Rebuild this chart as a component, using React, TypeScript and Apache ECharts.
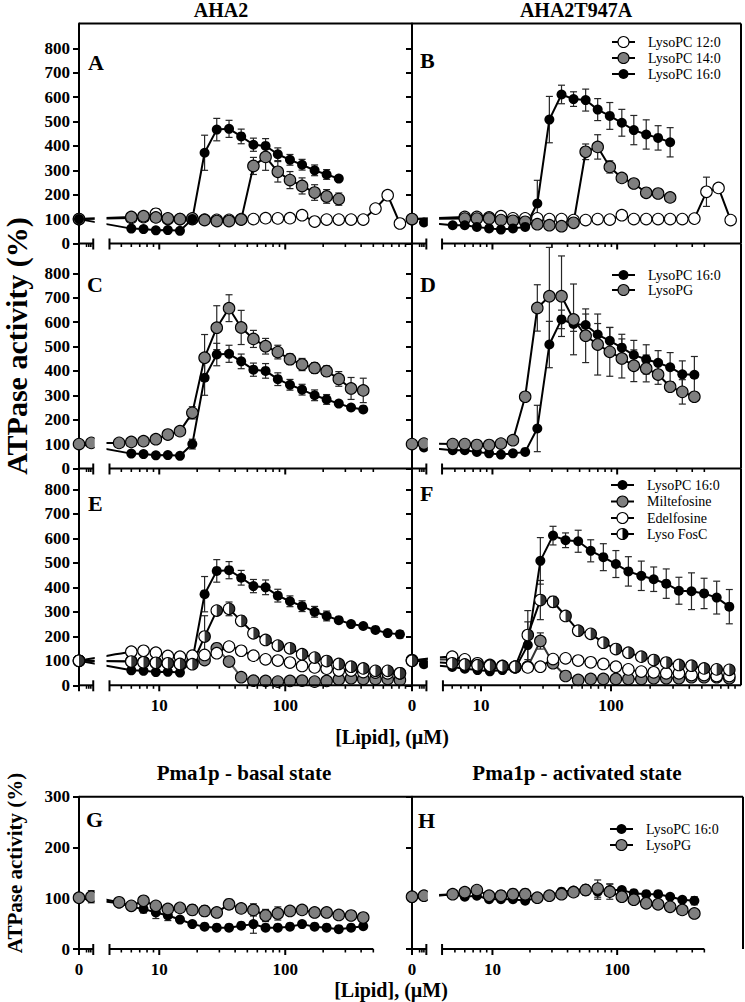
import React, { useEffect, useRef } from 'react';
import * as echarts from 'echarts';

// ---------- concentrations (µM) for the log part of the x axis ----------
const CONC = [4.8, 6, 7.5, 9.4, 11.7, 14.6, 18.3, 22.9, 28.6, 35.8, 44.7, 55.9, 69.8, 87.3, 109, 136, 171, 213, 266, 333, 416, 520, 650, 813];

// ---------- AHA2 (wild type) ----------
const AHA2_PC12 = [105, 108, 122, 100, 100, 100, 98, 97, 97, 100, 100, 104, 103, 104, 116, 90, 98, 98, 98, 98, 143, 198, 82];
const AHA2_PC12_ERR = [0, 0, 20, 0, 0, 0, 0, 0, 0, 0, 0, 0, 0, 0, 12, 0, 0, 0, 0, 0, 0, 15, 0];
const AHA2_PC14 = [109, 112, 107, 103, 100, 103, 96, 92, 92, 98, 318, 355, 294, 260, 236, 209, 193, 182];
const AHA2_PC14_ERR = [0, 0, 0, 0, 0, 0, 0, 0, 0, 0, 35, 55, 42, 35, 33, 32, 28, 25];
const AHA2_PC16 = [61, 59, 54, 55, 52, 100, 372, 467, 470, 439, 405, 400, 366, 343, 323, 300, 283, 266, 250, 242, 226, 213, 208];
const AHA2_PC16_ERR = [0, 0, 0, 0, 0, 20, 72, 46, 35, 30, 27, 30, 26, 22, 22, 22, 20, 10, 0, 0, 0, 0, 15];
const AHA2_PG = [105, 109, 112, 120, 139, 153, 228, 454, 577, 657, 578, 531, 501, 477, 448, 426, 412, 399, 367, 328, 320];
const AHA2_PG_ERR = [0, 0, 0, 0, 0, 0, 25, 95, 90, 55, 70, 35, 32, 28, 22, 25, 22, 22, 30, 45, 50];
const AHA2_MILT = [98, 95, 92, 90, 88, 95, 103, 151, 97, 33, 19, 18, 15, 18, 19, 15, 18, 24, 29, 26, 26, 26, 22];
const AHA2_MILT_ERR = [0, 0, 0, 0, 0, 0, 0, 20, 12, 0, 0, 0, 0, 0, 0, 0, 0, 0, 0, 0, 0, 0, 0];
const AHA2_EDEL = [137, 141, 133, 120, 117, 121, 124, 131, 158, 141, 121, 106, 101, 93, 79, 73, 68, 60, 60, 54, 52, 49, 49];
const AHA2_FOSC = [97, 94, 92, 90, 87, 86, 199, 305, 312, 263, 212, 185, 162, 151, 127, 113, 99, 87, 76, 69, 59, 59, 49];
const AHA2_FOSC_ERR = [0, 0, 0, 0, 0, 0, 85, 0, 28, 20, 0, 0, 0, 0, 0, 0, 0, 0, 0, 0, 0, 0, 0];

// ---------- AHA2T947A ----------
const T947A_PC12 = [109, 109, 107, 112, 103, 103, 103, 100, 100, 96, 96, 100, 98, 116, 100, 100, 100, 100, 100, 102, 212, 228, 96];
const T947A_PC12_ERR = [0, 0, 0, 0, 0, 0, 0, 0, 0, 0, 0, 0, 0, 12, 0, 0, 0, 0, 0, 0, 60, 0, 0];
const T947A_PC14 = [102, 102, 102, 96, 93, 89, 79, 75, 71, 85, 376, 396, 314, 269, 246, 208, 205, 189];
const T947A_PC14_ERR = [0, 0, 0, 0, 0, 0, 0, 0, 0, 0, 32, 50, 25, 0, 0, 0, 0, 0];
const T947A_PC16 = [75, 75, 68, 62, 57, 62, 68, 164, 508, 611, 592, 588, 549, 523, 495, 465, 447, 433, 415, 386, 384, 375, 358, 321];
const T947A_PC16_ERR = [0, 0, 0, 0, 0, 0, 0, 95, 95, 38, 30, 45, 45, 55, 55, 60, 60, 50, 60, 55, 75, 62, 67, 70];
const T947A_PG = [100, 100, 96, 96, 102, 116, 294, 658, 706, 706, 611, 544, 508, 478, 451, 421, 410, 385, 335, 314, 294];
const T947A_PG_ERR = [0, 0, 0, 0, 0, 0, 15, 95, 200, 165, 145, 110, 125, 100, 80, 65, 55, 40, 0, 50, 0];
const T947A_MILT = [106, 97, 87, 76, 76, 73, 76, 181, 90, 38, 22, 26, 26, 26, 26, 26, 29, 29, 29, 33, 33, 33, 29];
const T947A_MILT_ERR = [0, 0, 0, 0, 0, 0, 0, 33, 0, 0, 0, 0, 0, 0, 0, 0, 0, 0, 0, 0, 0, 0, 0];
const T947A_EDEL = [117, 106, 90, 83, 79, 76, 73, 76, 107, 110, 101, 94, 87, 76, 65, 56, 53, 49, 49, 42, 42, 38, 38];
const T947A_FOSC = [90, 85, 82, 80, 78, 76, 205, 348, 341, 283, 223, 210, 174, 148, 133, 117, 103, 93, 83, 80, 69, 65, 63];
const T947A_FOSC_ERR = [0, 0, 0, 0, 0, 0, 100, 80, 22, 0, 10, 0, 0, 0, 0, 0, 0, 0, 0, 0, 0, 0, 0];

// ---------- Pma1p ----------
const PMA_BASAL_PC16 = [90, 83, 79, 72, 66, 58, 49, 44, 42, 42, 46, 49, 42, 42, 44, 49, 44, 42, 39, 42, 45];
const PMA_BASAL_PC16_ERR = [0, 0, 8, 12, 10, 0, 0, 0, 0, 0, 0, 18, 0, 0, 0, 0, 0, 0, 0, 0, 0];
const PMA_BASAL_PG = [92, 85, 95, 85, 79, 81, 77, 75, 72, 88, 80, 77, 66, 70, 75, 77, 72, 72, 67, 66, 62];
const PMA_BASAL_PG_ERR = [0, 0, 0, 0, 0, 0, 10, 10, 0, 10, 0, 12, 12, 13, 8, 0, 0, 0, 0, 8, 8];
const PMA_ACT_PC16 = [108, 103, 105, 98, 98, 98, 95, 101, 105, 113, 115, 119, 113, 116, 116, 110, 108, 108, 103, 97, 95];
const PMA_ACT_PC16_ERR = [0, 0, 0, 0, 0, 0, 0, 0, 0, 0, 0, 0, 15, 12, 0, 0, 0, 0, 0, 0, 8];
const PMA_ACT_PG = [108, 112, 116, 105, 105, 108, 108, 101, 105, 108, 112, 116, 119, 113, 103, 97, 90, 88, 83, 77, 70];
const PMA_ACT_PG_ERR = [0, 0, 0, 0, 10, 10, 10, 0, 0, 0, 0, 10, 17, 15, 8, 8, 0, 0, 0, 0, 0];

// ---------- ticks ----------
const MINOR_CONC = [5, 6, 7, 8, 9, 20, 30, 40, 50, 60, 70, 80, 90, 200, 300, 400, 500, 600, 700, 800, 900];
const ZERO_MINOR_FRAC = [0.53, 0.69, 0.83];
const Y_TICKS_TOP = [0, 100, 200, 300, 400, 500, 600, 700, 800];
const Y_TICKS_PMA = [0, 100, 200, 300];

const FONT = '"Liberation Serif", "Times New Roman", Times, serif';

type Kind = 'black' | 'gray' | 'white' | 'half';
interface DS {
  kind: Kind; zero: (number | null)[]; zeroErr?: number[]; start: number; vals: number[];
  err?: number[]; skip?: number; count?: number; smooth?: boolean; lineColor?: string;
}
interface Ax { uMin: number; uMax: number; z2: number; segEnd: number; logStart: number }

const AX_L: Ax = { uMin: 0.363, uMax: 3.006, z2: 0.461, segEnd: 0.476, logStart: 0.605 };
const AX_R: Ax = { uMin: 0.355, uMax: 2.993, z2: 0.451, segEnd: 0.470, logStart: 0.596 };
const AX_H: Ax = { uMin: 0.355, uMax: 3.009, z2: 0.451, segEnd: 0.470, logStart: 0.596 };
const AX_F: Ax = { uMin: 0.469, uMax: 3.0, z2: 0.561, segEnd: 0.580, logStart: 0.707 };

interface Panel {
  grid: number[]; ax: Ax; yMax: number; yTicks: number[]; yLabels: boolean; xLabels: number[];
  minorMax: number; lineEnd?: number; topBorder: boolean; rightBorder: boolean; series: DS[];
}

const PANELS: Panel[] = [
  { // A
    grid: [79, 23.5, 333, 220], ax: AX_L, yMax: 902, yTicks: Y_TICKS_TOP, yLabels: true, xLabels: [],
    minorMax: 900, topBorder: true, rightBorder: false,
    series: [
      { kind: 'white', zero: [100], start: 1, vals: AHA2_PC12, err: AHA2_PC12_ERR },
      { kind: 'gray', zero: [100], start: 1, vals: AHA2_PC14, err: AHA2_PC14_ERR },
      { kind: 'black', zero: [100], start: 1, vals: AHA2_PC16, err: AHA2_PC16_ERR, count: 18 },
    ],
  },
  { // B
    grid: [412, 23.5, 329, 220], ax: AX_R, yMax: 902, yTicks: Y_TICKS_TOP, yLabels: false, xLabels: [],
    minorMax: 500, topBorder: true, rightBorder: true,
    series: [
      { kind: 'white', zero: [100], start: 1, vals: T947A_PC12, err: T947A_PC12_ERR },
      { kind: 'gray', zero: [100], start: 1, vals: T947A_PC14, err: T947A_PC14_ERR },
      { kind: 'black', zero: [null, 86], start: 0, vals: T947A_PC16, err: T947A_PC16_ERR, count: 19 },
    ],
  },
  { // C
    grid: [79, 243.5, 333, 225], ax: AX_L, yMax: 922, yTicks: Y_TICKS_TOP, yLabels: true, xLabels: [],
    minorMax: 500, topBorder: false, rightBorder: false,
    series: [
      { kind: 'black', zero: [100], start: 1, vals: AHA2_PC16, err: AHA2_PC16_ERR, count: 20 },
      { kind: 'gray', zero: [100, 105], start: 0, vals: AHA2_PG, err: AHA2_PG_ERR },
    ],
  },
  { // D
    grid: [412, 243.5, 329, 225], ax: AX_R, yMax: 922, yTicks: Y_TICKS_TOP, yLabels: false, xLabels: [],
    minorMax: 500, topBorder: false, rightBorder: true,
    series: [
      { kind: 'black', zero: [null, 86], start: 0, vals: T947A_PC16, err: T947A_PC16_ERR, count: 21 },
      { kind: 'gray', zero: [100, 102], start: 0, vals: T947A_PG, err: T947A_PG_ERR },
    ],
  },
  { // E
    grid: [79, 468.5, 333, 216.8], ax: AX_L, yMax: 885, yTicks: Y_TICKS_TOP, yLabels: true, xLabels: [1, 2],
    minorMax: 900, topBorder: false, rightBorder: false,
    series: [
      { kind: 'black', zero: [100], start: 1, vals: AHA2_PC16, err: AHA2_PC16_ERR },
      { kind: 'gray', zero: [100], start: 1, vals: AHA2_MILT, err: AHA2_MILT_ERR, lineColor: '#5a5a5a' },
      { kind: 'white', zero: [100], start: 1, vals: AHA2_EDEL, smooth: true },
      { kind: 'half', zero: [100], start: 1, vals: AHA2_FOSC, err: AHA2_FOSC_ERR },
    ],
  },
  { // F
    grid: [412, 468.5, 329, 216.8], ax: AX_F, yMax: 885, yTicks: Y_TICKS_TOP, yLabels: false, xLabels: [0, 1, 2],
    minorMax: 900, topBorder: false, rightBorder: true,
    series: [
      { kind: 'black', zero: [null, 86], start: 0, vals: T947A_PC16, err: T947A_PC16_ERR, skip: 1 },
      { kind: 'gray', zero: [103], start: 1, vals: T947A_MILT, err: T947A_MILT_ERR, lineColor: '#333' },
      { kind: 'white', zero: [100], start: 1, vals: T947A_EDEL, smooth: true },
      { kind: 'half', zero: [100], start: 1, vals: T947A_FOSC, err: T947A_FOSC_ERR },
    ],
  },
  { // G
    grid: [79, 796.7, 333, 152.3], ax: AX_L, yMax: 300, yTicks: Y_TICKS_PMA, yLabels: true, xLabels: [0, 1, 2],
    minorMax: 500, lineEnd: Math.log10(500), topBorder: true, rightBorder: false,
    series: [
      { kind: 'black', zero: [100], start: 0, vals: PMA_BASAL_PC16, err: PMA_BASAL_PC16_ERR },
      { kind: 'gray', zero: [101, 103], zeroErr: [0, 12], start: 0, vals: PMA_BASAL_PG, err: PMA_BASAL_PG_ERR },
    ],
  },
  { // H
    grid: [412, 796.7, 331, 152.3], ax: AX_H, yMax: 300, yTicks: Y_TICKS_PMA, yLabels: false, xLabels: [0, 1, 2],
    minorMax: 500, lineEnd: Math.log10(500), topBorder: true, rightBorder: true,
    series: [
      { kind: 'black', zero: [100], start: 0, vals: PMA_ACT_PC16, err: PMA_ACT_PC16_ERR },
      { kind: 'gray', zero: [103, 105], start: 0, vals: PMA_ACT_PG, err: PMA_ACT_PG_ERR },
    ],
  },
];

const TITLES: [string, number, number, number][] = [
  ['AHA2', 221, 10, 20],
  ['AHA2T947A', 576, 10, 20],
  ['[Lipid], (µM)', 392, 737, 20],
  ['Pma1p - basal state', 244, 773, 21],
  ['Pma1p - activated state', 577, 773, 21],
  ['[Lipid], (µM)', 391, 990, 20],
];
const LETTERS: [string, number, number][] = [
  ['A', 88, 62], ['B', 420, 60], ['C', 87, 284], ['D', 420, 284],
  ['E', 88, 503], ['F', 420, 493], ['G', 86, 819], ['H', 418, 820],
];
const LEGENDS: { x: number; rows: [number, string, Kind][] }[] = [
  { x: 612, rows: [[42, 'LysoPC 12:0', 'white'], [58, 'LysoPC 14:0', 'gray'], [74, 'LysoPC 16:0', 'black']] },
  { x: 612, rows: [[275, 'LysoPC 16:0', 'black'], [290, 'LysoPG', 'gray']] },
  { x: 611, rows: [[485, 'LysoPC 16:0', 'black'], [501.5, 'Miltefosine', 'gray'], [518, 'Edelfosine', 'white'], [534, 'Lyso FosC', 'half']] },
  { x: 610, rows: [[829, 'LysoPC 16:0', 'black'], [845, 'LysoPG', 'gray']] },
];

const HALF_PATH = 'path://M0,0 A10,10 0 0 1 0,20 Z';

function points(d: DS, ax: Ax) {
  const pts: number[][] = [];
  const errs: number[][] = [];
  d.zero.forEach((v, i) => {
    if (v == null) return;
    const u = i === 0 ? ax.uMin : ax.z2;
    pts.push([u, v]);
    const e = d.zeroErr ? d.zeroErr[i] : 0;
    if (e) errs.push([u, v - e, v + e]);
  });
  const skip = d.skip || 0;
  const count = d.count != null ? d.count : d.vals.length - skip;
  for (let j = skip; j < skip + count; j++) {
    const u = Math.log10(CONC[d.start + j]);
    const v = d.vals[j];
    pts.push([u, v]);
    const e = d.err ? d.err[j] : 0;
    if (e) errs.push([u, v - e, v + e]);
  }
  return { pts, errs };
}

const errRender = (params: any, api: any) => {
  const u = api.value(0);
  const p1 = api.coord([u, api.value(1)]);
  const p2 = api.coord([u, api.value(2)]);
  const w = 3.5;
  const st = { stroke: '#262626', lineWidth: 1.2 };
  return {
    type: 'group',
    children: [
      { type: 'line', shape: { x1: p1[0], y1: p1[1], x2: p2[0], y2: p2[1] }, style: st },
      { type: 'line', shape: { x1: p1[0] - w, y1: p1[1], x2: p1[0] + w, y2: p1[1] }, style: st },
      { type: 'line', shape: { x1: p2[0] - w, y1: p2[1], x2: p2[0] + w, y2: p2[1] }, style: st },
    ],
  };
};

function buildOption() {
  const grid = PANELS.map((P) => ({ left: P.grid[0], top: P.grid[1], width: P.grid[2], height: P.grid[3], containLabel: false }));
  const tickFont = { fontFamily: FONT, fontWeight: 'bold' as const, fontSize: 17, color: '#000' };
  const xAxis = PANELS.map((P, i) => ({
    type: 'value', gridIndex: i, min: P.ax.uMin, max: P.ax.uMax,
    axisLine: { show: false }, axisTick: { show: false }, splitLine: { show: false },
    axisLabel: {
      show: P.xLabels.length > 0,
      customValues: P.xLabels.map((k) => (k === 0 ? P.ax.uMin : k)),
      formatter: (v: number) => (v < 0.8 ? '0' : v < 1.5 ? '10' : '100'),
      margin: 12, ...tickFont,
    },
  }));
  const yAxis = PANELS.map((P, i) => ({
    type: 'value', gridIndex: i, min: 0, max: P.yMax, interval: 100,
    axisLine: { show: true, onZero: false, lineStyle: { color: '#000', width: 2 } },
    axisTick: { show: true, length: 6, customValues: P.yTicks, lineStyle: { color: '#000', width: 2 } },
    axisLabel: {
      show: P.yLabels, customValues: P.yTicks, margin: 9,
      formatter: (v: number) => (v > P.yTicks[P.yTicks.length - 1] ? '' : String(v)),
      ...tickFont,
    },
    splitLine: { show: false },
  }));
  const series: any[] = [];
  PANELS.forEach((P, i) => {
    P.series.forEach((d) => {
      const { pts, errs } = points(d, P.ax);
      if (errs.length) {
        series.push({
          type: 'custom', xAxisIndex: i, yAxisIndex: i, data: errs, renderItem: errRender,
          encode: { x: 0, y: [1, 2] }, z: 1, silent: true, clip: false,
        });
      }
      const fill = d.kind === 'black' ? '#000' : d.kind === 'gray' ? '#7f7f7f' : '#fff';
      series.push({
        type: 'line', xAxisIndex: i, yAxisIndex: i, data: pts, smooth: d.smooth ? 0.35 : false,
        symbol: 'circle', symbolSize: d.kind === 'black' ? 10 : 11.5, showSymbol: true,
        itemStyle: { color: fill, borderColor: '#000', borderWidth: d.kind === 'black' ? 0 : 1.1 },
        lineStyle: { color: d.lineColor || '#000', width: 2 },
        clip: false, silent: true, z: 2,
      });
      if (d.kind === 'half') {
        series.push({
          type: 'scatter', xAxisIndex: i, yAxisIndex: i, data: pts, symbol: HALF_PATH,
          symbolSize: [5.8, 11.5], symbolOffset: [2.9, 0], itemStyle: { color: '#000' },
          clip: false, silent: true, z: 2,
        });
      }
    });
  });
  return { animation: false, backgroundColor: '#fff', grid, xAxis, yAxis, series };
}

function buildGraphic(chart: any) {
  const els: any[] = [];
  const seg = (x1: number, y1: number, x2: number, y2: number, w = 2) =>
    els.push({ type: 'line', z: 60, silent: true, shape: { x1, y1, x2, y2 }, style: { stroke: '#000', lineWidth: w } });

  PANELS.forEach((P, p) => {
    const ax = P.ax;
    const X = (u: number) => chart.convertToPixel({ xAxisIndex: p }, u) as number;
    const Y = (v: number) => chart.convertToPixel({ yAxisIndex: p }, v) as number;
    const y0 = Y(0);
    const yT = Y(P.yMax);
    const x0 = X(ax.uMin);
    const xs = X(ax.segEnd);
    const xl = X(ax.logStart);
    const xR = X(ax.uMax);
    // break gap mask
    els.push({
      type: 'rect', z: 50, silent: true,
      shape: { x: xs + 1.5, y: yT + 1.5, width: xl - 3 - (xs + 1.5), height: y0 - yT },
      style: { fill: '#fff' },
    });
    // axis segments
    seg(x0, y0, xs, y0);
    seg(xl, y0, X(P.lineEnd != null ? P.lineEnd : ax.uMax), y0);
    // major ticks
    [ax.uMin, 1, 2].forEach((u) => seg(X(u), y0, X(u), y0 + 6));
    // break ticks
    [xs, xl].forEach((x) => seg(x, y0 - 5, x, y0 + 6));
    // minor ticks zero segment
    ZERO_MINOR_FRAC.forEach((f) => {
      const x = x0 + f * (xs - x0);
      seg(x, y0, x, y0 + 3.5, 1.6);
    });
    // minor log ticks
    MINOR_CONC.filter((c) => Math.log10(c) > ax.logStart + 0.015 && c <= P.minorMax).forEach((c) => {
      const x = X(Math.log10(c));
      seg(x, y0, x, y0 + 3.5, 1.6);
    });
    if (P.topBorder) seg(x0, yT, xR, yT);
    if (P.rightBorder) seg(xR, yT, xR, y0);
  });

  const txt = (text: string, x: number, y: number, font: string, align = 'center', rotation = 0) =>
    els.push({
      type: 'text', z: 70, silent: true, x, y, rotation,
      style: {
        text, font, fill: '#000',
        align, verticalAlign: 'middle', textAlign: align, textVerticalAlign: 'middle',
      },
    });

  TITLES.forEach(([t, x, y, s]) => txt(t, x, y, `bold ${s}px ${FONT}`));
  LETTERS.forEach(([t, x, y]) => txt(t, x, y, `bold 22px ${FONT}`, 'left'));
  txt('ATPase activity (%)', 16, 346, `bold 30px ${FONT}`, 'center', Math.PI / 2);
  txt('ATPase activity (%)', 15, 863, `bold 21px ${FONT}`, 'center', Math.PI / 2);

  LEGENDS.forEach((L) => {
    L.rows.forEach(([y, label, kind]) => {
      seg(L.x, y, L.x + 23, y);
      const cx = L.x + 11.5;
      const fill = kind === 'black' ? '#000' : kind === 'gray' ? '#7f7f7f' : '#fff';
      els.push({
        type: 'circle', z: 65, silent: true, shape: { cx, cy: y, r: kind === 'black' ? 5 : 5.5 },
        style: { fill, stroke: '#000', lineWidth: kind === 'black' ? 0 : 1.1 },
      });
      if (kind === 'half') {
        els.push({
          type: 'sector', z: 66, silent: true,
          shape: { cx, cy: y, r: 5.8, r0: 0, startAngle: -Math.PI / 2, endAngle: Math.PI / 2, clockwise: true },
          style: { fill: '#000' },
        });
      }
      txt(label, L.x + 36, y, `14px ${FONT}`, 'left');
    });
  });
  return els;
}

export default function App() {
  const ref = useRef<HTMLDivElement>(null);
  useEffect(() => {
    document.body.style.margin = '0';
    const chart = echarts.init(ref.current as HTMLDivElement, null, { renderer: 'svg' });
    chart.setOption(buildOption() as any);
    chart.setOption({ graphic: { elements: buildGraphic(chart) } } as any);
    return () => chart.dispose();
  }, []);
  return <div ref={ref} style={{ width: 745, height: 1002 }} />;
}
